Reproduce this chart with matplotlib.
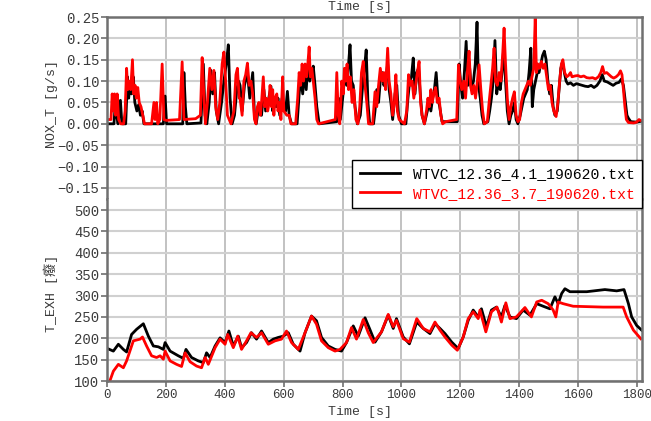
import matplotlib
matplotlib.use("Agg")
import matplotlib.pyplot as plt
import numpy as np

plt.rcParams['font.family'] = ['Liberation Mono', 'Noto Sans CJK SC', 'DejaVu Sans']

labels = ["WTVC_12.36_4.1_190620.txt", "WTVC_12.36_3.7_190620.txt"]
colors = ["black", "red"]

# (time [s], NOX_T [g/s])
nox_41 = [(0, 0.0), (10, 0.0), (22, 0.0), (27, 0.05), (31, 0.02), (36, 0.0), (44, 0.055), (49, 0.0), (62, 0.0),
          (68, 0.11), (72, 0.06), (77, 0.09), (82, 0.07), (88, 0.11), (93, 0.05), (100, 0.03), (106, 0.045),
          (112, 0.02), (118, 0.03), (124, 0.0), (190, 0.0), (196, 0.065), (201, 0.0), (256, 0.0), (260, 0.12),
          (265, 0.04), (270, 0.0), (318, 0.002), (326, 0.14), (332, 0.02), (338, 0.0), (346, 0.05), (352, 0.125),
          (358, 0.07), (364, 0.12), (370, 0.03), (378, 0.0), (388, 0.05), (396, 0.10), (404, 0.14), (411, 0.185),
          (417, 0.06), (424, 0.0), (432, 0.02), (440, 0.08), (446, 0.10), (451, 0.09), (458, 0.03), (466, 0.09),
          (476, 0.12), (484, 0.06), (494, 0.12), (500, 0.02), (506, 0.0), (512, 0.03), (518, 0.04), (524, 0.02),
          (532, 0.08), (538, 0.03), (546, 0.05), (556, 0.088), (562, 0.03), (568, 0.06), (574, 0.04), (580, 0.06),
          (586, 0.02), (594, 0.06), (600, 0.04), (606, 0.03), (612, 0.076), (618, 0.02), (626, 0.0), (645, 0.0),
          (652, 0.07), (658, 0.11), (664, 0.07), (670, 0.12), (676, 0.08), (682, 0.14), (688, 0.10), (694, 0.12),
          (700, 0.135), (706, 0.09), (712, 0.04), (720, 0.0), (780, 0.005), (786, 0.06), (792, 0.01), (800, 0.06),
          (808, 0.12), (814, 0.09), (820, 0.14), (825, 0.185), (830, 0.10), (836, 0.09), (842, 0.04), (850, 0.0),
          (860, 0.02), (868, 0.09), (874, 0.13), (880, 0.173), (886, 0.05), (892, 0.0), (905, 0.0), (910, 0.03),
          (916, 0.08), (922, 0.05), (928, 0.10), (934, 0.12), (940, 0.09), (946, 0.10), (953, 0.14), (958, 0.08),
          (964, 0.05), (970, 0.01), (978, 0.07), (984, 0.09), (990, 0.02), (1000, 0.0), (1015, 0.0), (1022, 0.06),
          (1028, 0.10), (1034, 0.11), (1040, 0.154), (1046, 0.07), (1052, 0.12), (1058, 0.13), (1064, 0.07),
          (1070, 0.02), (1078, 0.0), (1088, 0.03), (1094, 0.05), (1100, 0.03), (1106, 0.06), (1112, 0.08),
          (1118, 0.12), (1124, 0.06), (1130, 0.04), (1138, 0.005), (1190, 0.005), (1196, 0.14), (1202, 0.09),
          (1208, 0.06), (1214, 0.12), (1220, 0.193), (1226, 0.09), (1232, 0.13), (1238, 0.08), (1245, 0.10),
          (1251, 0.14), (1257, 0.238), (1262, 0.09), (1268, 0.06), (1274, 0.02), (1280, 0.0), (1294, 0.005),
          (1300, 0.03), (1306, 0.06), (1312, 0.10), (1318, 0.195), (1324, 0.07), (1330, 0.10), (1336, 0.08),
          (1342, 0.12), (1348, 0.18), (1354, 0.10), (1360, 0.03), (1366, 0.0), (1372, 0.02), (1378, 0.03),
          (1384, 0.05), (1390, 0.01), (1396, 0.0), (1404, 0.02), (1410, 0.04), (1416, 0.06), (1422, 0.07),
          (1428, 0.08), (1434, 0.12), (1440, 0.177), (1445, 0.04), (1450, 0.08), (1456, 0.10), (1462, 0.12),
          (1468, 0.12), (1474, 0.14), (1480, 0.16), (1486, 0.17), (1492, 0.15), (1498, 0.10), (1504, 0.07),
          (1510, 0.09), (1516, 0.04), (1522, 0.02), (1530, 0.03), (1536, 0.08), (1542, 0.13), (1548, 0.145),
          (1554, 0.12), (1560, 0.10), (1566, 0.093), (1575, 0.096), (1585, 0.09), (1595, 0.094), (1605, 0.092),
          (1615, 0.09), (1625, 0.088), (1635, 0.087), (1645, 0.09), (1655, 0.085), (1665, 0.09), (1675, 0.10),
          (1683, 0.115), (1690, 0.10), (1700, 0.098), (1710, 0.094), (1720, 0.09), (1730, 0.095), (1740, 0.097),
          (1748, 0.105), (1755, 0.09), (1762, 0.05), (1767, 0.02), (1772, 0.013), (1780, 0.005), (1800, 0.004),
          (1815, 0.006)]

nox_37 = [(0, 0.01), (12, 0.01), (16, 0.07), (20, 0.03), (24, 0.07), (28, 0.02), (33, 0.07), (38, 0.01), (45, 0.0),
          (55, 0.0), (60, 0.03), (65, 0.13), (69, 0.08), (74, 0.10), (79, 0.08), (85, 0.15), (89, 0.07), (94, 0.09),
          (98, 0.06), (103, 0.085), (108, 0.05), (114, 0.04), (120, 0.02), (126, 0.0), (150, 0.0), (158, 0.05),
          (162, 0.01), (167, 0.05), (171, 0.0), (178, 0.01), (186, 0.14), (192, 0.01), (200, 0.008), (245, 0.01),
          (254, 0.145), (260, 0.01), (300, 0.012), (316, 0.02), (322, 0.155), (327, 0.08), (333, 0.0), (340, 0.05),
          (348, 0.13), (355, 0.08), (362, 0.125), (368, 0.04), (375, 0.01), (382, 0.05), (390, 0.14), (396, 0.168),
          (402, 0.10), (408, 0.02), (420, 0.0), (430, 0.03), (437, 0.115), (442, 0.13), (448, 0.06), (451, 0.06),
          (458, 0.02), (464, 0.10), (470, 0.115), (476, 0.142), (482, 0.09), (488, 0.10), (494, 0.07), (500, 0.01),
          (505, 0.0), (510, 0.04), (515, 0.05), (520, 0.02), (524, 0.05), (530, 0.11), (535, 0.04), (540, 0.06),
          (545, 0.03), (550, 0.05), (553, 0.09), (558, 0.04), (562, 0.08), (566, 0.02), (570, 0.06), (576, 0.07),
          (580, 0.03), (585, 0.05), (590, 0.01), (596, 0.11), (600, 0.03), (610, 0.02), (618, 0.02), (624, 0.0),
          (640, 0.0), (647, 0.06), (652, 0.12), (657, 0.09), (662, 0.14), (667, 0.10), (672, 0.14), (677, 0.11),
          (682, 0.145), (686, 0.18), (690, 0.11), (695, 0.13), (700, 0.10), (706, 0.06), (712, 0.01), (718, 0.0),
          (775, 0.01), (780, 0.12), (785, 0.02), (790, 0.0), (797, 0.10), (802, 0.07), (806, 0.13), (810, 0.10),
          (815, 0.14), (820, 0.08), (826, 0.11), (832, 0.05), (838, 0.08), (845, 0.01), (852, 0.0), (858, 0.04),
          (864, 0.12), (870, 0.146), (876, 0.09), (882, 0.05), (888, 0.0), (902, 0.0), (910, 0.075), (916, 0.04),
          (922, 0.09), (928, 0.13), (934, 0.10), (940, 0.12), (946, 0.08), (953, 0.177), (958, 0.10), (964, 0.07),
          (970, 0.02), (976, 0.05), (981, 0.115), (986, 0.03), (992, 0.01), (1010, 0.0), (1018, 0.03), (1024, 0.115),
          (1030, 0.09), (1036, 0.10), (1042, 0.06), (1048, 0.09), (1054, 0.12), (1060, 0.146), (1065, 0.05),
          (1070, 0.02), (1078, 0.0), (1085, 0.03), (1090, 0.06), (1095, 0.04), (1100, 0.08), (1105, 0.05),
          (1110, 0.07), (1116, 0.085), (1122, 0.05), (1128, 0.06), (1134, 0.02), (1140, 0.0), (1150, 0.005),
          (1188, 0.01), (1194, 0.138), (1200, 0.10), (1205, 0.08), (1212, 0.10), (1218, 0.06), (1224, 0.12),
          (1230, 0.17), (1235, 0.09), (1240, 0.07), (1246, 0.09), (1252, 0.06), (1258, 0.10), (1264, 0.138),
          (1270, 0.08), (1276, 0.03), (1282, 0.0), (1292, 0.005), (1298, 0.05), (1304, 0.09), (1310, 0.13),
          (1315, 0.177), (1320, 0.10), (1326, 0.09), (1332, 0.12), (1338, 0.10), (1344, 0.16), (1349, 0.224),
          (1354, 0.14), (1360, 0.06), (1366, 0.01), (1372, 0.04), (1378, 0.06), (1384, 0.075), (1390, 0.02),
          (1396, 0.005), (1402, 0.01), (1408, 0.05), (1414, 0.07), (1420, 0.08), (1426, 0.09), (1432, 0.10),
          (1438, 0.09), (1444, 0.11), (1450, 0.13), (1455, 0.25), (1459, 0.12), (1464, 0.14), (1470, 0.13),
          (1476, 0.146), (1482, 0.13), (1488, 0.14), (1494, 0.11), (1500, 0.08), (1506, 0.09), (1512, 0.05),
          (1518, 0.03), (1526, 0.017), (1532, 0.05), (1538, 0.10), (1544, 0.14), (1549, 0.15), (1555, 0.12),
          (1562, 0.11), (1568, 0.113), (1575, 0.12), (1580, 0.11), (1590, 0.112), (1600, 0.113), (1610, 0.11),
          (1620, 0.112), (1630, 0.108), (1640, 0.107), (1650, 0.108), (1660, 0.105), (1670, 0.11), (1678, 0.12),
          (1684, 0.134), (1690, 0.118), (1698, 0.12), (1706, 0.115), (1714, 0.11), (1722, 0.107), (1730, 0.11),
          (1738, 0.115), (1745, 0.124), (1750, 0.115), (1755, 0.08), (1760, 0.04), (1765, 0.01), (1772, 0.003),
          (1790, 0.002), (1800, 0.004), (1808, 0.01), (1813, 0.008)]

# (time [s], T_EXH)
texh_41 = [(0, 176), (20, 170), (37, 186), (54, 174), (65, 168), (82, 209), (99, 221), (122, 234), (139, 205),
           (156, 182), (173, 180), (190, 174), (196, 190), (213, 170), (241, 159), (258, 153), (267, 174),
           (286, 155), (309, 147), (326, 143), (337, 166), (349, 155), (366, 182), (383, 201), (400, 190),
           (413, 217), (428, 182), (445, 205), (456, 178), (473, 190), (490, 213), (507, 198), (524, 217),
           (547, 190), (564, 198), (581, 202), (598, 205), (615, 213), (632, 186), (655, 170), (672, 213),
           (694, 252), (711, 241), (728, 202), (751, 182), (774, 174), (796, 170), (813, 190), (836, 229),
           (853, 205), (876, 248), (893, 220), (910, 191), (932, 215), (955, 254), (972, 223), (983, 246),
           (1006, 203), (1027, 187), (1052, 238), (1074, 223), (1097, 211), (1114, 234), (1131, 223), (1148, 211),
           (1171, 191), (1193, 176), (1210, 203), (1227, 242), (1244, 266), (1261, 250), (1272, 269), (1289, 227),
           (1306, 266), (1323, 273), (1340, 250), (1352, 277), (1369, 250), (1391, 246), (1414, 266), (1437, 254),
           (1460, 281), (1482, 275), (1505, 269), (1522, 297), (1533, 281), (1545, 305), (1556, 316), (1573, 309),
           (1630, 309), (1692, 314), (1732, 311), (1757, 314), (1772, 281), (1783, 250), (1800, 230), (1817, 219)]

texh_37 = [(8, 100), (20, 123), (37, 139), (54, 131), (65, 147), (88, 194), (111, 198), (119, 203), (133, 182),
           (150, 159), (167, 155), (179, 159), (190, 151), (196, 170), (213, 147), (235, 139), (252, 134),
           (264, 166), (281, 145), (303, 135), (320, 131), (332, 155), (343, 139), (366, 178), (383, 198),
           (400, 186), (409, 209), (428, 178), (443, 205), (456, 174), (473, 194), (488, 213), (507, 202),
           (524, 213), (547, 186), (570, 194), (592, 198), (609, 217), (626, 190), (649, 174), (672, 213),
           (694, 252), (711, 233), (728, 194), (751, 178), (774, 170), (791, 174), (813, 190), (830, 225),
           (847, 198), (870, 244), (887, 213), (904, 190), (932, 215), (955, 256), (972, 227), (983, 242),
           (1006, 199), (1027, 191), (1052, 246), (1074, 223), (1097, 215), (1114, 238), (1131, 219), (1148, 203),
           (1171, 184), (1190, 172), (1210, 203), (1227, 246), (1244, 262), (1261, 246), (1267, 266), (1287, 215),
           (1306, 262), (1325, 273), (1340, 238), (1355, 283), (1369, 246), (1391, 250), (1420, 272), (1442, 250),
           (1460, 285), (1477, 289), (1499, 281), (1516, 266), (1525, 250), (1533, 285), (1550, 281), (1584, 275),
           (1686, 273), (1754, 273), (1766, 250), (1789, 219), (1814, 199)]

nox_ticks = [-0.15, -0.10, -0.05, 0.0, 0.05, 0.10, 0.15, 0.20, 0.25]
texh_ticks = [100, 150, 200, 250, 300, 350, 400, 450, 500]
time_ticks = [0, 200, 400, 600, 800, 1000, 1200, 1400, 1600, 1800]

txt = '#3a3a3a'
spine_c = '#707070'

fig = plt.figure(figsize=(6.51, 4.21), dpi=100)
ax1 = fig.add_axes([0.1651, 0.5273, 0.821, 0.4323])
ax2 = fig.add_axes([0.1651, 0.0950, 0.821, 0.4323])

lines = []
for data, c, lab in zip([nox_41, nox_37], colors, labels):
    t, v = np.array(data).T
    ln, = ax1.plot(t, v, color=c, lw=2.0, label=lab)
    lines.append(ln)
for data, c in zip([texh_41, texh_37], colors):
    t, v = np.array(data).T
    ax2.plot(t, v, color=c, lw=2.0)

ax1.set_ylim(-0.176, 0.25)
ax2.set_ylim(100, 526)
for ax in (ax1, ax2):
    ax.set_xlim(0, 1818)
    ax.set_xticks(time_ticks)
    ax.grid(axis='y', color='#d0d0d0', lw=1.5)
    ax.grid(axis='x', color='#b8b8b8', lw=1.2)
    ax.set_axisbelow(True)
    for s in ax.spines.values():
        s.set_color(spine_c)
        s.set_linewidth(1.8)
    ax.tick_params(axis='y', direction='out', length=4, width=1.2, color=spine_c,
                   labelsize=10, labelcolor=txt, pad=2)

ax1.spines['bottom'].set_visible(False)
ax2.spines['top'].set_visible(False)

ax1.set_yticks(nox_ticks)
ax1.set_yticklabels([f"{v:.2f}".replace('-', '\u2212') for v in nox_ticks])
ax1.tick_params(axis='x', length=0, labelbottom=False)
ax1.xaxis.set_label_position('top')
ax1.set_xlabel("Time [s]", fontsize=9.5, color=txt)
ax1.xaxis.set_label_coords(0.472, 1.04)
ax1.set_ylabel("NOX_T [g/s]", fontsize=9.5, color=txt)
ax1.yaxis.set_label_coords(-0.092, 0.52)

ax2.set_yticks(texh_ticks)
ax2.tick_params(axis='x', direction='out', length=4, width=1.2, color=spine_c,
                labelsize=9, labelcolor=txt, pad=2)
ax2.set_xlabel("Time [s]", fontsize=9.5, color=txt)
ax2.xaxis.set_label_coords(0.472, -0.138)
ax2.set_ylabel("T_EXH [癈]", fontsize=9.5, color=txt)
ax2.yaxis.set_label_coords(-0.092, 0.48)

leg = fig.legend(lines, labels, loc='lower right', bbox_to_anchor=(642 / 651, 1 - 208 / 421),
                 bbox_transform=fig.transFigure, fancybox=False, edgecolor='black', framealpha=1,
                 borderaxespad=0, labelcolor='linecolor', handlelength=2.7, handletextpad=0.9,
                 fontsize=10.6, borderpad=0.5, labelspacing=0.35)
leg.get_frame().set_linewidth(1.0)

fig.savefig('out.png', dpi=100)
